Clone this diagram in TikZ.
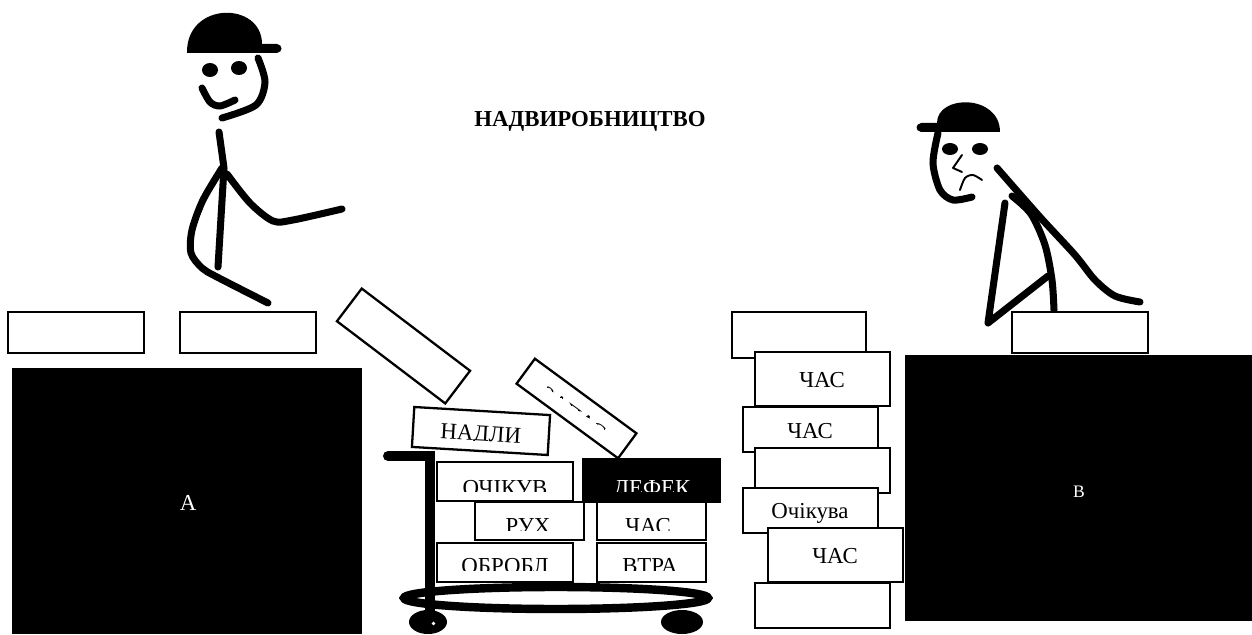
\documentclass[tikz,border=0pt]{standalone}
\usepackage{fontspec}
\setmainfont{Liberation Serif}

\begin{document}
\begin{tikzpicture}[
  x=0.02cm, y=-0.02cm,
  brick/.style={draw, line width=1.3pt, fill=white},
  pad/.style={fill=black},
  stick/.style={line width=4pt, line cap=round, line join=round},
  fine/.style={line width=1.1pt, line cap=round, line join=round},
  lbl/.style={font=\fontsize{13}{15}\selectfont, inner sep=0pt},
]
\path[fill=white, use as bounding box] (0,0) rectangle (1252,635);

\node[lbl, font=\fontsize{13}{15}\selectfont\bfseries, anchor=base] (title) at (590,127) {НАДВИРОБНИЦТВО};

% workshops A and B
\fill[pad] (12,368) rectangle (362,634);
\node[lbl, text=white, anchor=base] (shopA) at (188,510) {А};
\fill[pad] (905,355) rectangle (1252,621);
\node[lbl, font=\fontsize{10}{12}\selectfont, text=white, anchor=base] (shopB) at (1079,497) {В};

% left worker
\fill (187,53) .. controls (186,1) and (262,1) .. (262,44) -- (277,44)
  .. controls (283,45) and (283,52) .. (277,53) -- cycle;
\fill (210,70) ellipse (8 and 7);
\fill (239,68) ellipse (8 and 7);
\begin{scope}[stick]
  \draw plot[smooth] coordinates {(258,58) (265,82) (256,105) (222,118)};
  \draw plot[smooth] coordinates {(202,88) (210,102) (220,106) (235,100)};
  \draw (219,132) -- (224,168) -- (218,267);
  \draw plot[smooth] coordinates {(227,174) (250,203) (273,221) (293,220) (342,209)};
  \draw plot[smooth] coordinates {(222,168) (203,200) (192,230) (191,253) (202,268) (217,277) (268,303)};
\end{scope}

% right worker
\fill (1000,132) .. controls (1000,94) and (937,94) .. (937,123) -- (921,123)
  .. controls (915,124) and (915,131) .. (921,132) -- cycle;
\fill (950,149) ellipse (8 and 6);
\fill (980,149) ellipse (8 and 6);
\draw[fine] (962,155) -- (953,168) -- (962,172);
\draw[fine] plot[smooth] coordinates {(960,190) (965,178) (973,175) (982,180)};
\begin{scope}[stick]
  \draw plot[smooth] coordinates {(938,133) (933,163) (940,190) (953,200) (972,197)};
  \draw plot[smooth] coordinates {(997,168) (1040,217) (1075,255) (1095,280) (1115,296) (1140,302)};
  \draw plot[smooth] coordinates {(1012,196) (1031,214) (1045,245) (1052,280) (1054,310)};
  \draw (1005,203) -- (988,323) -- (1048,276);
\end{scope}

% bricks on the floor
\draw[brick] (8,312) rectangle (144,353);
\draw[brick] (180,312) rectangle (316,353);
\draw[brick] (1012,312) rectangle (1148,353);

% falling bricks
\begin{scope}[shift={(403.5,346)}, rotate=-37.2]
  \draw[brick] (-68,-20.5) rectangle (68,20.5);
\end{scope}
\begin{scope}[shift={(481,431)}, rotate=-3.4]
  \draw[brick] (-68,-20) rectangle (68,20);
  \clip (-68,-20) rectangle (68,9.5);
  \node[lbl, anchor=base, transform shape] (surplus) at (0,10) {НАДЛИ};
\end{scope}
\begin{scope}[shift={(576.5,408.5)}, rotate=-36.3]
  \draw[brick] (-63,-15.5) rectangle (63,15.5);
  \clip (-63,-15.5) rectangle (63,0.5);
  \node[lbl, anchor=base, transform shape] (stock) at (0,14) {ЗАПАС};
\end{scope}

% stack next to B
\draw[brick] (732,312) rectangle (866,358);
\draw[brick] (755,352) rectangle (890,406);
\node[lbl] (time1) at (822,380) {ЧАС};
\draw[brick] (743,407) rectangle (878,452);
\node[lbl] (time2) at (810,431) {ЧАС};
\draw[brick] (755,448) rectangle (890,493);
\draw[brick] (743,488) rectangle (878,533);
\node[lbl] (waiting) at (810,513) {Очікува};
\draw[brick] (768,528) rectangle (903,582);
\node[lbl] (time3) at (835,556) {ЧАС};
\draw[brick] (755,583) rectangle (890,628);

% cart
\draw[line width=5.7pt, line cap=round] (388,456) -- (430,456) -- (430,618);
\draw[line width=4.8pt] (556,598) ellipse (152 and 11);
\fill (428,622) ellipse (19 and 12);
\fill (682,622) ellipse (21 and 12);
\fill[white] (433.5,623.5) circle (1.8);

% load on the cart
\draw[brick] (437,462) rectangle (573,501);
\begin{scope}
  \clip (437,462) rectangle (573,491);
  \node[lbl, anchor=base] (wait) at (505,495) {ОЧІКУВ};
\end{scope}
\draw[brick, fill=black] (583,459) rectangle (720,502);
\begin{scope}
  \clip (583,459) rectangle (720,491);
  \node[lbl, text=white, anchor=base] (defect) at (652,495) {ДЕФЕК};
\end{scope}
\draw[brick] (475,502) rectangle (584,540);
\begin{scope}
  \clip (475,502) rectangle (584,530);
  \node[lbl, anchor=base] (move) at (528,533) {РУХ};
\end{scope}
\draw[brick] (597,502) rectangle (706,540);
\begin{scope}
  \clip (597,502) rectangle (706,530);
  \node[lbl, anchor=base] (time4) at (648,533) {ЧАС};
\end{scope}
\draw[brick] (437,543) rectangle (573,582);
\begin{scope}
  \clip (437,543) rectangle (573,570);
  \node[lbl, anchor=base] (process) at (505,573) {ОБРОБЛ};
\end{scope}
\draw[brick] (597,543) rectangle (706,582);
\begin{scope}
  \clip (597,543) rectangle (706,570);
  \node[lbl, anchor=base] (loss) at (650,573) {ВТРА};
\end{scope}
\end{tikzpicture}
\end{document}
